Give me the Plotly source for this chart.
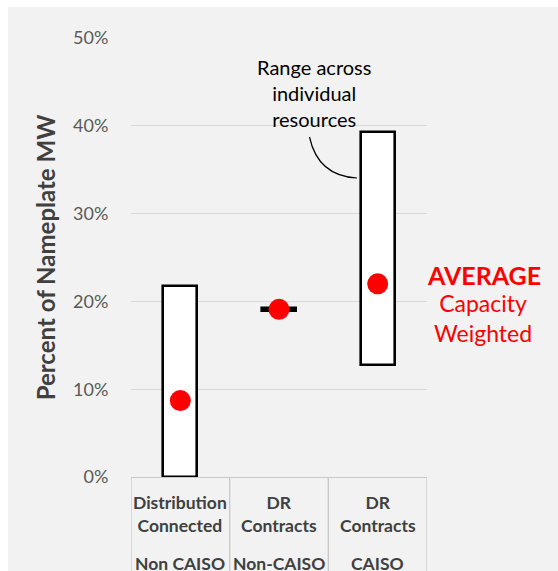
import plotly.graph_objects as go

# Resource groups and their capacity ranges (% of nameplate MW)
groups = ["Distribution<br>Connected", "DR<br>Contracts", "DR<br>Contracts"]
operators = ["Non CAISO", "Non-CAISO", "CAISO"]
range_low = [0.0, 18.95, 12.8]
range_high = [21.7, 19.2, 39.3]
weighted_avg = [8.7, 19.1, 22.0]

tick_vals = [0, 10, 20, 30, 40, 50]
tick_text = ["0%", "10%", "20%", "30%", "40%", "50%"]

W, H = 558, 571
L, R, T, B = 131, 131, 38, 94
pw, ph = W - L - R, H - T - B

def px_x(p):
    return (p - L) / pw

def px_y(p):
    return (H - B - p) / ph

FONT = "Lato"
xs = list(range(len(groups)))

fig = go.Figure()

# floating range bars
fig.add_trace(go.Bar(
    x=xs,
    base=range_low,
    y=[h - l for h, l in zip(range_high, range_low)],
    width=0.345,
    marker=dict(color=["white", "black", "white"], line=dict(color="black", width=2.6)),
    hoverinfo="skip",
    showlegend=False,
))

# capacity-weighted averages
fig.add_trace(go.Scatter(
    x=xs,
    y=weighted_avg,
    mode="markers",
    marker=dict(color="#ff0000", size=21, line=dict(width=0)),
    showlegend=False,
))

shapes = [
    # white strips framing the grey panel
    dict(type="rect", xref="paper", yref="paper", x0=px_x(-5), x1=px_x(W + 5),
         y0=px_y(7), y1=px_y(-5), fillcolor="white", line=dict(width=0), layer="below"),
    dict(type="rect", xref="paper", yref="paper", x0=px_x(-5), x1=px_x(8),
         y0=px_y(H + 5), y1=px_y(-5), fillcolor="white", line=dict(width=0), layer="below"),
    # leader line for the range note
    dict(type="path", xref="paper", yref="paper",
         path=f"M {px_x(309.5)} {px_y(137)} Q {px_x(318)} {px_y(176)} {px_x(357)} {px_y(178)}",
         line=dict(color="black", width=1.2)),
]

# category table dividers below the axis
for b in [-0.5, 0.5, 1.5, 2.5]:
    shapes.append(dict(type="line", xref="x", yref="paper", x0=b, x1=b,
                       y0=0, y1=px_y(H + 5), line=dict(color="#c8c8c8", width=1.3)))

annotations = []
for i, (g, o) in enumerate(zip(groups, operators)):
    annotations.append(dict(x=i, y=px_y(514), xref="x", yref="paper", text=f"<b>{g}</b>",
                            showarrow=False, font=dict(family=FONT, size=17.5, color="#404040"),
                            xanchor="center", yanchor="middle"))
    annotations.append(dict(x=i, y=px_y(563), xref="x", yref="paper", text=f"<b>{o}</b>",
                            showarrow=False, font=dict(family=FONT, size=17.5, color="#404040"),
                            xanchor="center", yanchor="middle"))

annotations += [
    dict(x=px_x(314), y=px_y(93), xref="paper", yref="paper",
         text="Range across<br>individual<br>resources", showarrow=False,
         font=dict(family=FONT, size=20, color="black"), align="center",
         xanchor="center", yanchor="middle"),
    dict(x=px_x(484), y=px_y(275), xref="paper", yref="paper", text="<b>AVERAGE</b>",
         showarrow=False, font=dict(family=FONT, size=25, color="#ff0000"),
         xanchor="center", yanchor="middle"),
    dict(x=px_x(483), y=px_y(318), xref="paper", yref="paper", text="Capacity<br>Weighted",
         showarrow=False, font=dict(family=FONT, size=23, color="#ff0000"), align="center",
         xanchor="center", yanchor="middle"),
]

fig.update_layout(
    width=W, height=H,
    margin=dict(l=L, r=R, t=T, b=B, pad=0),
    paper_bgcolor="#f2f2f2",
    plot_bgcolor="#f2f2f2",
    font=dict(family=FONT),
    shapes=shapes,
    annotations=annotations,
    bargap=0,
)

fig.update_xaxes(
    range=[-0.5, 2.5], showticklabels=False, showgrid=False, zeroline=False,
    showline=True, linecolor="#c8c8c8", linewidth=1.3, fixedrange=True,
)
fig.update_yaxes(
    range=[0, 50], tickvals=tick_vals, ticktext=tick_text,
    tickfont=dict(family=FONT, size=18, color="#595959"),
    ticks="outside", ticklen=18, tickcolor="rgba(0,0,0,0)",
    showgrid=True, gridcolor="#d9d9d9", gridwidth=1.3, zeroline=False,
    title=dict(text="<b>Percent of Nameplate MW</b>", standoff=10,
               font=dict(family=FONT, size=24, color="#404040")),
    fixedrange=True,
)

fig.write_html("out.html")
